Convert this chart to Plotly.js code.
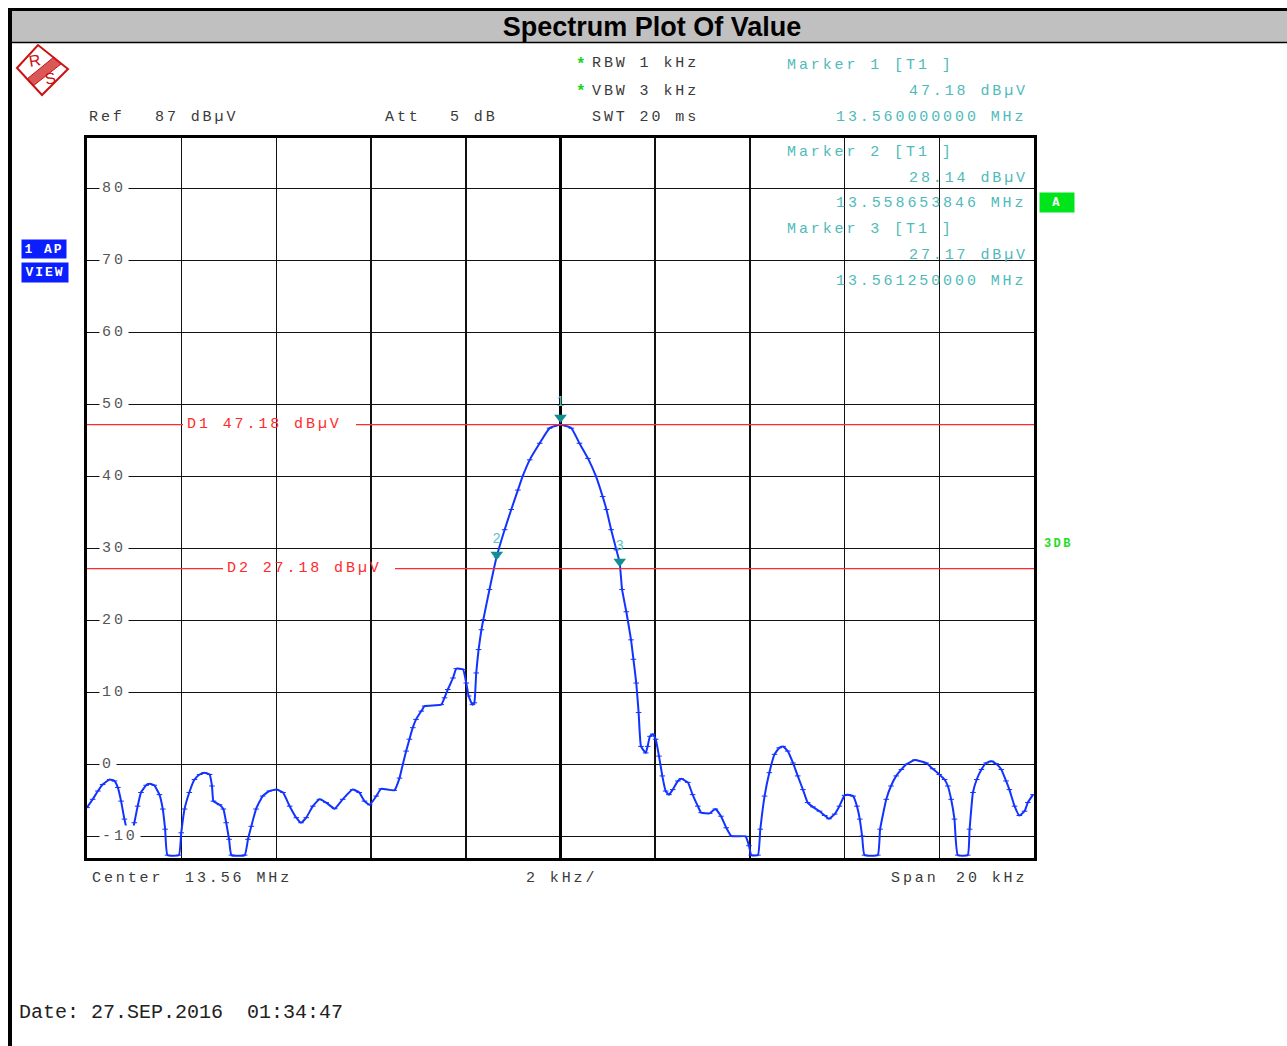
<!DOCTYPE html>
<html>
<head>
<meta charset="utf-8">
<script src="https://cdn.plot.ly/plotly-3.0.1.min.js"></script>
<style>
html,body{margin:0;padding:0;background:#fff;}
text.annotation-text[style*="font-size: 15px"]{letter-spacing:2.9px;}
text.annotation-text[style*="font-size: 13px"]{letter-spacing:2px;}
text.annotation-text[style*="font-size: 12px"]{letter-spacing:2.4px;}
</style>
</head>
<body>
<div id="chart" style="width:1287px;height:1046px;"></div>
<script>
// ---------------- DATA ----------------
const centerMHz = 13.56;
const spanKHz = 20;
const refLevel = 87;
// trace: frequency offset from centre (kHz) and level (dBµV)
const freqOffsetKHz = [
  -10.00, -9.88, -9.77, -9.67, -9.52, -9.42, -9.35, -9.28, -9.21, -9.14,
  -9.10, -9.05, -9.00, -8.93, -8.86, -8.75, -8.68, -8.58, -8.47, -8.40,
  -8.35, -8.30, -8.06, -8.01, -7.94, -7.84, -7.73, -7.62, -7.52, -7.41,
  -7.36, -7.33, -7.20, -7.12, -7.06, -7.00, -6.95, -6.67, -6.60, -6.53,
  -6.43, -6.29, -6.15, -6.00, -5.86, -5.72, -5.58, -5.48, -5.37, -5.23,
  -5.09, -4.95, -4.77, -4.60, -4.39, -4.25, -4.14, -4.03, -3.89, -3.79,
  -3.51, -3.40, -3.33, -3.26, -3.19, -3.12, -3.05, -2.94, -2.87, -2.52,
  -2.45, -2.38, -2.27, -2.20, -2.06, -1.99, -1.94, -1.86, -1.82, -1.78,
  -1.73, -1.67, -1.63, -1.50, -1.35, -1.18, -1.04, -0.90, -0.80, -0.65,
  -0.44, -0.23, 0.00, 0.23, 0.40, 0.58, 0.75, 0.89, 0.97, 1.07,
  1.18, 1.25, 1.30, 1.39, 1.49, 1.54, 1.60, 1.65, 1.70, 1.80,
  1.84, 1.89, 1.95, 2.01, 2.08, 2.15, 2.22, 2.29, 2.37, 2.48,
  2.55, 2.69, 2.79, 2.90, 2.97, 3.15, 3.27, 3.39, 3.50, 3.61,
  3.91, 3.98, 4.03, 4.17, 4.22, 4.31, 4.41, 4.52, 4.62, 4.70,
  4.80, 4.91, 5.01, 5.12, 5.22, 5.33, 5.47, 5.58, 5.67, 5.79,
  5.89, 6.00, 6.07, 6.18, 6.26, 6.32, 6.37, 6.42, 6.70, 6.75,
  6.88, 6.98, 7.09, 7.20, 7.30, 7.48, 7.72, 7.86, 8.00, 8.11,
  8.18, 8.25, 8.32, 8.39, 8.60, 8.64, 8.71, 8.79, 8.89, 8.99,
  9.10, 9.20, 9.31, 9.41, 9.48, 9.59, 9.69, 9.80, 9.87, 9.98
];
const levelDbuV = [
  -6.0, -4.85, -3.7, -2.8, -2.1, -2.3, -3.2, -5.1, -7.6, -9.5,
  -9.85, -9.6, -8.1, -5.8, -3.9, -2.9, -2.7, -2.9, -4.2, -6.2,
  -9.0, -12.6, -12.6, -9.5, -6.2, -3.9, -2.1, -1.4, -1.15, -1.4,
  -3.0, -5.1, -5.6, -6.2, -8.1, -10.4, -12.6, -12.6, -10.4, -8.6,
  -6.2, -4.4, -3.7, -3.5, -3.9, -5.8, -7.4, -8.1, -7.4, -5.8,
  -4.85, -5.3, -6.15, -4.85, -3.5, -3.9, -5.1, -5.6, -4.4, -3.4,
  -3.6, -1.9, 0.0, 1.85, 3.5, 5.1, 6.25, 7.4, 8.1, 8.3,
  9.25, 10.4, 12.0, 13.3, 13.2, 11.3, 9.5, 8.3, 8.55, 12.7,
  15.95, 18.7, 20.1, 24.3, 28.8, 32.6, 35.4, 38.1, 40.0, 42.3,
  44.6, 46.7, 47.18, 46.7, 44.6, 42.5, 40.0, 37.2, 35.4, 32.6,
  29.8, 28.0, 24.3, 21.2, 17.3, 14.6, 11.3, 7.2, 2.5, 1.6,
  2.5, 3.9, 4.2, 3.5, 1.15, -1.6, -3.7, -4.2, -3.5, -2.3,
  -2.0, -2.5, -4.2, -5.8, -6.7, -6.8, -6.2, -7.2, -8.8, -9.95,
  -10.0, -11.3, -12.6, -12.6, -9.0, -4.4, -1.15, 1.4, 2.3, 2.5,
  1.85, 0.2, -1.6, -3.5, -5.3, -5.9, -6.5, -7.1, -7.55, -6.9,
  -5.8, -4.3, -4.2, -4.4, -5.8, -7.6, -9.95, -12.6, -12.6, -9.0,
  -4.85, -3.0, -1.6, -0.7, 0.0, 0.6, 0.2, -0.6, -1.4, -2.1,
  -3.0, -4.85, -7.6, -12.6, -12.6, -9.0, -3.9, -2.1, -0.7, 0.2,
  0.45, 0.1, -0.7, -2.3, -3.5, -5.8, -7.1, -6.5, -5.3, -4.2
];
// markers
const markerNames = ['1', '2', '3'];
const markerFreqMHz = [13.560000000, 13.558653846, 13.561250000];
const markerLevelDbuV = [47.18, 28.14, 27.17];
// display lines
const displayLineNames = ['D1', 'D2'];
const displayLineLevels = [47.18, 27.18];
// tick labels / grid
const yTickValues = [80, 70, 60, 50, 40, 30, 20, 10, 0, -10];
const xTickValues = [-10, -8, -6, -4, -2, 0, 2, 4, 6, 8, 10];
// instrument settings texts
const rbwText = 'RBW 1 kHz', vbwText = 'VBW 3 kHz', swtText = 'SWT 20 ms';
const attText = ['Att', '5 dB'];
const refText = ['Ref', refLevel + ' dBµV'];
const dateText = 'Date: 27.SEP.2016  01:34:47';

// ---------------- LAYOUT HELPERS ----------------
const L = 87, R = 1034, T = 138, B = 858;
const px2x = p => (p - L) / (R - L);
const py2y = p => (B - p) / (B - T);
const pathPx = pts => pts.map((p, i) => (i ? 'L' : 'M') + px2x(p[0]).toFixed(5) + ',' + py2y(p[1]).toFixed(5)).join(' ') + ' Z';

const MONO = 'Liberation Mono';
const SANS = 'Liberation Sans';
const CYAN = '#4fbaba';
const TEAL = '#0f8f8f';
const RED = '#ff2a2a';
const GRAY = '#3a3a3a';

const annotations = [];
function txt(text, x, y, opt) {
  opt = opt || {};
  annotations.push(Object.assign({
    text: text, xref: 'paper', yref: 'paper', x: px2x(x), y: py2y(y),
    xanchor: opt.anchor || 'left', yanchor: 'middle', showarrow: false,
    font: {family: opt.family || MONO, size: opt.size || 15, color: opt.color || GRAY, weight: opt.weight || 'normal'},
    bgcolor: opt.bg || 'rgba(0,0,0,0)', borderpad: opt.pad === undefined ? 0 : opt.pad
  }, opt.extra || {}));
}

// header
txt(refText[0], 88, 117);
txt(refText[1], 154, 117);
txt(attText[0], 384, 117);
txt(attText[1], 449, 117);
txt('*', 575, 65, {color: '#19d219', size: 16, weight: 'bold'});
txt('*', 575, 92, {color: '#19d219', size: 16, weight: 'bold'});
txt(rbwText, 591, 64);
txt(vbwText, 591, 91);
txt(swtText, 591, 117);

// marker info block
const markerRowsY = [[66, 91, 117], [152, 178, 203], [229, 255, 281]];
markerNames.forEach((n, i) => {
  txt('Marker ' + n + ' [T1 ]', 786, markerRowsY[i][0], {color: CYAN});
  txt(markerLevelDbuV[i].toFixed(2) + ' dBµV', 908, markerRowsY[i][1], {color: CYAN});
  txt(markerFreqMHz[i].toFixed(9) + ' MHz', 835, markerRowsY[i][2], {color: CYAN});
});

// y tick labels inside the grid (white background interrupts grid line)
yTickValues.forEach(v => {
  annotations.push({
    text: String(v), xref: 'paper', yref: 'y', x: px2x(99), y: v,
    xanchor: 'left', yanchor: 'middle', showarrow: false,
    font: {family: MONO, size: 15, color: '#555'}, bgcolor: '#fff', borderpad: 2
  });
});

// display line labels
const dLabelX = [185, 225];
displayLineNames.forEach((n, i) => {
  annotations.push({
    text: n + ' ' + displayLineLevels[i].toFixed(2) + ' dBµV', xref: 'paper', yref: 'y',
    x: px2x(dLabelX[i]), y: displayLineLevels[i], xanchor: 'left', yanchor: 'middle',
    showarrow: false, font: {family: MONO, size: 15, color: RED}
  });
});

// bottom axis texts
txt('Center', 91, 879);
txt((centerMHz).toFixed(2) + ' MHz', 184, 879);
txt((spanKHz / 10) + ' kHz/', 525, 879);
txt('Span', 890, 879);
txt(spanKHz + ' kHz', 955, 879);

// date
txt(dateText, 18, 1013, {size: 20, color: '#222'});

// side boxes
txt('1 AP', 44, 249, {anchor: 'center', size: 13, color: '#fff', weight: 'bold', bg: '#0a1eff', pad: 1, extra: {width: 42, height: 16}});
txt('VIEW', 45, 272, {anchor: 'center', size: 13, color: '#fff', weight: 'bold', bg: '#0a1eff', pad: 1, extra: {width: 44, height: 17}});
txt('A', 1057, 202, {anchor: 'center', size: 12, color: '#fff', weight: 'bold', bg: '#00e41c', pad: 1, extra: {width: 32, height: 17}});
txt('3DB', 1043, 544, {size: 12, color: '#22dd22', weight: 'bold'});

// logo letters
txt('R', 35, 61, {anchor: 'center', family: SANS, size: 16, color: '#cc1111', extra: {textangle: -10}});
txt('S', 50, 78, {anchor: 'center', family: SANS, size: 16, color: '#cc1111', extra: {textangle: -10}});

// ---------------- SHAPES ----------------
const shapes = [
  // title bar and frame
  {type: 'rect', xref: 'paper', yref: 'paper', x0: px2x(11), x1: px2x(1287), y0: py2y(11), y1: py2y(42), fillcolor: '#c0c0c0', line: {width: 0}},
  {type: 'line', xref: 'paper', yref: 'paper', x0: px2x(11), x1: px2x(1287), y0: py2y(42.5), y1: py2y(42.5), line: {color: '#000', width: 1.5}},
  {type: 'line', xref: 'paper', yref: 'paper', x0: px2x(8), x1: px2x(1287), y0: py2y(9.5), y1: py2y(9.5), line: {color: '#000', width: 3}},
  {type: 'line', xref: 'paper', yref: 'paper', x0: px2x(10), x1: px2x(10), y0: py2y(8), y1: py2y(1046), line: {color: '#000', width: 4}},
  // logo
  {type: 'path', xref: 'paper', yref: 'paper', path: pathPx([[17, 68], [38, 45], [68, 69], [42, 95]]), line: {color: '#cc1111', width: 2}, fillcolor: 'rgba(0,0,0,0)'},
  {type: 'path', xref: 'paper', yref: 'paper', path: pathPx([[54, 57], [61, 64], [33, 86], [27, 79]]), line: {color: '#cc1111', width: 1}, fillcolor: 'rgba(204,17,17,0.7)'}
];
// display lines with gap for their labels
const dGap = [[183, 356], [223, 395]];
displayLineLevels.forEach((v, i) => {
  shapes.push({type: 'line', xref: 'paper', yref: 'y', x0: 0, x1: px2x(dGap[i][0]), y0: v, y1: v, line: {color: RED, width: 1.3}});
  shapes.push({type: 'line', xref: 'paper', yref: 'y', x0: px2x(dGap[i][1]), x1: 1, y0: v, y1: v, line: {color: RED, width: 1.3}});
});

// ---------------- TRACES ----------------
const markerOffsetKHz = markerFreqMHz.map(f => (f - centerMHz) * 1000);
const traces = [
  {
    x: freqOffsetKHz, y: levelDbuV, type: 'scatter', mode: 'lines+markers',
    line: {color: '#1233ff', width: 2, shape: 'spline', smoothing: 0.4},
    marker: {symbol: 'line-ew', size: 4, line: {color: '#1233ff', width: 1}},
    hoverinfo: 'skip'
  },
  {
    x: markerOffsetKHz, y: markerLevelDbuV.map(v => v + 1.0), type: 'scatter', mode: 'markers+text',
    text: markerNames, textposition: 'top center',
    textfont: {family: SANS, size: 14, color: '#5cc4c4'},
    marker: {symbol: 'triangle-down', size: 11, color: TEAL, line: {width: 0}},
    cliponaxis: false, hoverinfo: 'skip'
  }
];

const layout = {
  width: 1287, height: 1046,
  margin: {l: L, r: 1287 - R, t: T, b: 1046 - B, pad: 0},
  paper_bgcolor: '#fff', plot_bgcolor: '#fff',
  showlegend: false, hovermode: false,
  title: {text: 'Spectrum Plot Of Value', x: 652 / 1287, xref: 'container', xanchor: 'center',
          y: 1 - 27 / 1046, yref: 'container', yanchor: 'middle',
          font: {family: SANS, size: 27, color: '#000', weight: 'bold'}},
  xaxis: {range: [-spanKHz / 2, spanKHz / 2], tickmode: 'array', tickvals: xTickValues,
          showticklabels: false, ticks: '', showgrid: true, gridcolor: '#111', gridwidth: 1.5,
          zeroline: true, zerolinecolor: '#000', zerolinewidth: 3,
          showline: true, mirror: true, linecolor: '#000', linewidth: 3, fixedrange: true},
  yaxis: {range: [refLevel - 100, refLevel], tickmode: 'array', tickvals: yTickValues,
          showticklabels: false, ticks: '', showgrid: true, gridcolor: '#111', gridwidth: 1.5,
          zeroline: false, showline: true, mirror: true, linecolor: '#000', linewidth: 3, fixedrange: true},
  shapes: shapes,
  annotations: annotations
};

Plotly.newPlot('chart', traces, layout, {displayModeBar: false, staticPlot: true});
</script>
</body>
</html>
